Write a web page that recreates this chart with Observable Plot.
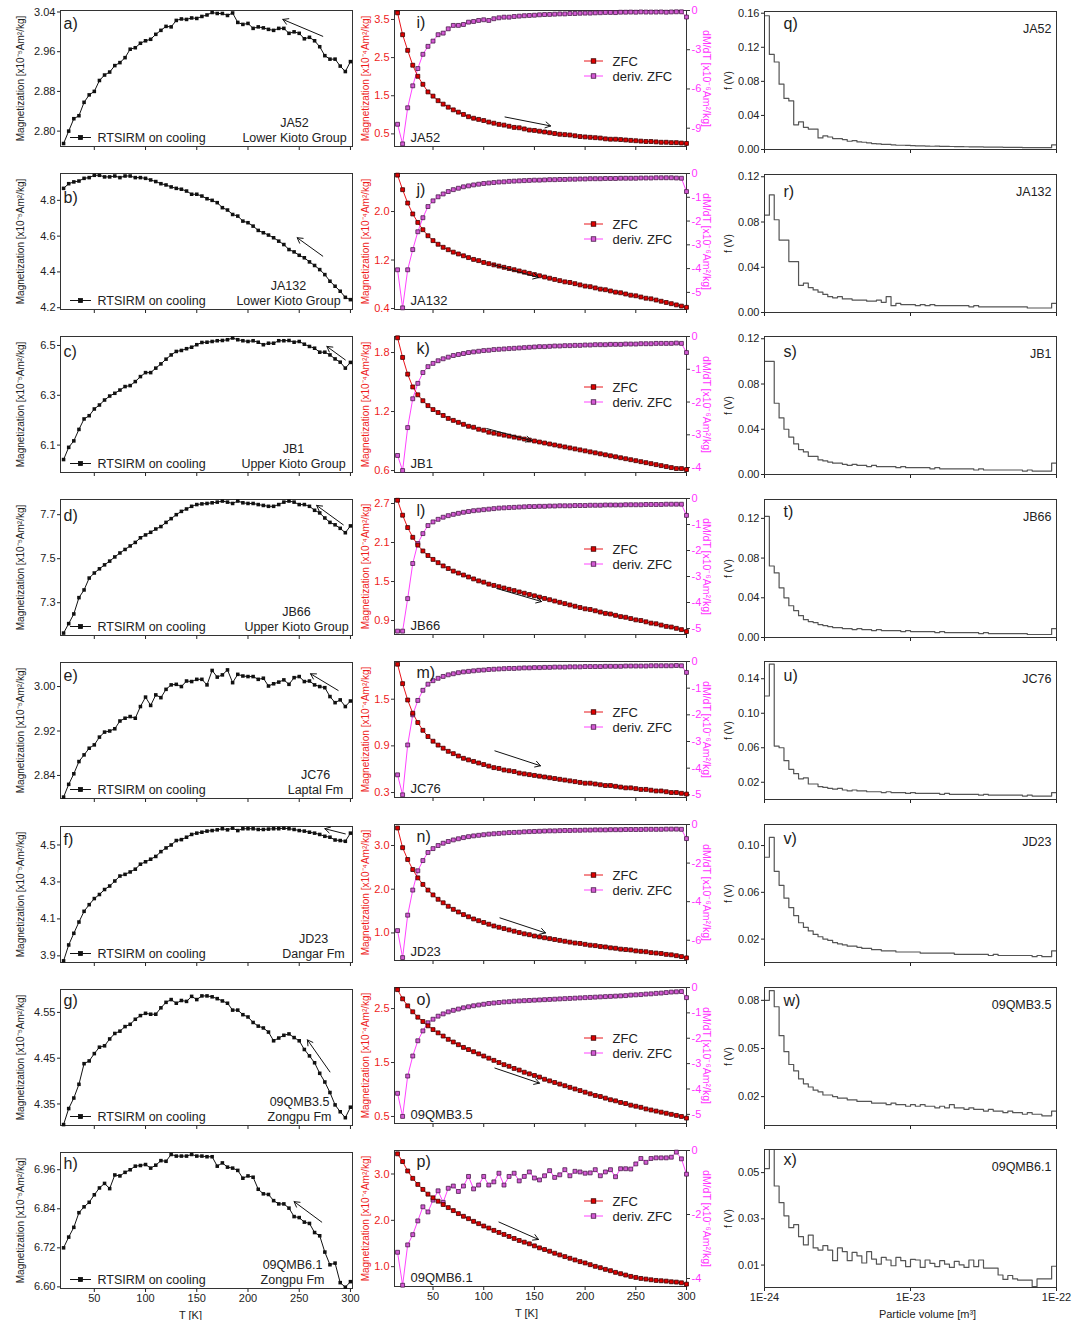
<!DOCTYPE html>
<html><head><meta charset="utf-8">
<script src="https://cdn.jsdelivr.net/npm/d3@7"></script>
<script src="https://cdn.jsdelivr.net/npm/@observablehq/plot@0.6"></script>
<style>
body{margin:0;background:#fff;}
#root{position:relative;width:1084px;height:1320px;overflow:hidden;background:#fff;}
</style></head><body><div id="root"></div>
<script>
// ---------------- DATA ----------------
const samples = ["JA52","JA132","JB1","JB66","JC76","JD23","09QMB3.5","09QMB6.1"];
const formations = ["Lower Kioto Group","Lower Kioto Group","Upper Kioto Group","Upper Kioto Group","Laptal Fm","Dangar Fm","Zongpu Fm","Zongpu Fm"];
const lettersRT = ["a)","b)","c)","d)","e)","f)","g)","h)"];
const lettersZFC = ["i)","j)","k)","l)","m)","n)","o)","p)"];
const lettersHist = ["q)","r)","s)","t)","u)","v)","w)","x)"];

const tempsRT = d3.range(20, 301, 5);   // RTSIRM temperature grid (K)
const tempsZFC = d3.range(15, 301, 5);  // ZFC temperature grid (K)
const tTicks = [50,100,150,200,250,300];

// RTSIRM on cooling (x10^-5 Am2/kg)
const rtA = [2.775,2.80,2.825,2.831,2.858,2.873,2.88,2.902,2.913,2.919,2.932,2.938,2.948,2.965,2.968,2.977,2.982,2.985,2.995,3.003,3.011,3.01,3.023,3.026,3.025,3.028,3.027,3.031,3.034,3.039,3.037,3.037,3.033,3.038,3.019,3.015,3.017,3.007,3.01,3.008,3.005,3.003,3.007,3.007,2.997,3.0,2.997,2.986,2.989,2.982,2.97,2.952,2.945,2.945,2.931,2.92,2.94];
const rtB = [4.867,4.893,4.903,4.908,4.923,4.927,4.94,4.94,4.931,4.931,4.936,4.927,4.936,4.936,4.927,4.927,4.923,4.914,4.905,4.893,4.886,4.875,4.867,4.862,4.852,4.834,4.834,4.824,4.809,4.80,4.787,4.759,4.746,4.721,4.712,4.684,4.675,4.656,4.632,4.619,4.606,4.591,4.572,4.553,4.525,4.512,4.493,4.479,4.456,4.436,4.413,4.385,4.348,4.32,4.292,4.258,4.245];
const rtC = [6.042,6.091,6.117,6.163,6.205,6.218,6.245,6.261,6.281,6.297,6.308,6.321,6.335,6.339,6.355,6.375,6.391,6.391,6.409,6.426,6.445,6.462,6.476,6.48,6.487,6.493,6.503,6.512,6.513,6.516,6.519,6.52,6.523,6.53,6.523,6.519,6.516,6.519,6.513,6.503,6.509,6.509,6.519,6.519,6.52,6.513,6.516,6.505,6.496,6.489,6.473,6.473,6.462,6.446,6.433,6.409,6.432];
const rtD = [7.162,7.205,7.249,7.323,7.358,7.412,7.435,7.454,7.472,7.489,7.508,7.526,7.542,7.558,7.574,7.595,7.608,7.62,7.635,7.646,7.665,7.682,7.70,7.715,7.726,7.738,7.746,7.749,7.751,7.754,7.757,7.762,7.757,7.751,7.762,7.754,7.751,7.751,7.746,7.742,7.738,7.738,7.746,7.757,7.762,7.757,7.746,7.746,7.738,7.72,7.708,7.685,7.665,7.654,7.638,7.618,7.649];
const rtE = [2.801,2.824,2.843,2.865,2.877,2.889,2.895,2.909,2.918,2.92,2.924,2.938,2.943,2.946,2.943,2.964,2.981,2.966,2.985,2.98,2.995,3.003,3.004,3.0,3.01,3.009,3.013,3.013,3.003,3.029,3.017,3.021,3.03,3.007,3.022,3.019,3.018,3.018,3.013,3.015,3.001,3.005,3.008,3.012,3.004,3.016,3.018,3.009,3.01,3.003,3.0,2.998,2.982,2.971,2.976,2.964,2.974];
const rtF = [3.873,3.959,4.022,4.083,4.141,4.177,4.21,4.232,4.259,4.278,4.305,4.332,4.341,4.354,4.369,4.396,4.409,4.423,4.438,4.464,4.484,4.50,4.524,4.529,4.542,4.557,4.564,4.569,4.575,4.578,4.582,4.588,4.582,4.591,4.578,4.588,4.588,4.588,4.584,4.584,4.586,4.588,4.588,4.591,4.588,4.584,4.578,4.575,4.569,4.564,4.557,4.547,4.542,4.527,4.524,4.52,4.564];
const rtG = [4.305,4.34,4.363,4.393,4.438,4.444,4.46,4.474,4.477,4.492,4.504,4.509,4.519,4.524,4.535,4.543,4.548,4.546,4.546,4.56,4.572,4.578,4.57,4.576,4.574,4.585,4.578,4.586,4.586,4.584,4.58,4.575,4.57,4.555,4.555,4.545,4.54,4.528,4.52,4.516,4.507,4.488,4.494,4.5,4.503,4.495,4.488,4.469,4.455,4.44,4.417,4.398,4.375,4.348,4.333,4.32,4.343];
const rtH = [6.72,6.753,6.783,6.828,6.846,6.86,6.883,6.904,6.918,6.902,6.944,6.941,6.952,6.96,6.971,6.973,6.976,6.965,6.974,6.988,6.986,7.007,7.002,7.002,7.002,7.007,7.002,7.002,7.0,7.0,6.971,6.981,6.968,6.965,6.958,6.934,6.941,6.937,6.9,6.886,6.884,6.865,6.855,6.855,6.842,6.816,6.813,6.799,6.795,6.767,6.757,6.707,6.668,6.673,6.613,6.599,6.616];
const rtsirm = [rtA, rtB, rtC, rtD, rtE, rtF, rtG, rtH];
const rtTicks = [[2.80,2.88,2.96,3.04],[4.2,4.4,4.6,4.8],[6.1,6.3,6.5],[7.3,7.5,7.7],[2.84,2.92,3.00],[3.9,4.1,4.3,4.5],[4.35,4.45,4.55],[6.60,6.72,6.84,6.96]];
const rtDecimals = [2,1,1,1,2,1,2,2];
const rtDomains = [[2.769,3.043],[4.19,4.95],[5.99,6.536],[7.151,7.769],[2.7985,3.0433],[3.864,4.60],[4.303,4.60],[6.595,7.013]];
// arrows [T1, M1, T2, M2]
const rtArrows = [[273,2.991,234,3.025],[273,4.488,248,4.591],[295,6.442,277,6.496],[293,7.654,267,7.742],[288,2.993,261,3.023],[295,4.56,275,4.588],[280,4.42,258,4.49],[272,6.799,245,6.862]];

// ZFC magnetization (x10^-4 Am2/kg)
const zfcI = [3.674,3.10,2.69,2.30,2.01,1.80,1.60,1.49,1.37,1.28,1.20,1.13,1.07,1.01,0.95,0.91,0.88,0.85,0.81,0.78,0.75,0.73,0.70,0.67,0.66,0.63,0.60,0.59,0.57,0.55,0.53,0.51,0.49,0.48,0.47,0.45,0.43,0.42,0.41,0.40,0.39,0.37,0.36,0.36,0.35,0.34,0.33,0.32,0.31,0.30,0.30,0.29,0.28,0.28,0.27,0.27,0.26,0.25];
const zfcJ = [2.60,2.36,2.14,1.96,1.82,1.70,1.60,1.52,1.46,1.41,1.37,1.33,1.30,1.27,1.24,1.21,1.19,1.16,1.14,1.12,1.10,1.08,1.06,1.04,1.02,1.00,0.98,0.96,0.94,0.92,0.90,0.88,0.86,0.84,0.83,0.81,0.79,0.77,0.76,0.74,0.72,0.71,0.69,0.67,0.66,0.64,0.62,0.61,0.59,0.57,0.56,0.54,0.52,0.50,0.48,0.46,0.44,0.42];
const zfcK = [1.95,1.75,1.58,1.45,1.37,1.31,1.26,1.22,1.19,1.16,1.13,1.11,1.09,1.07,1.05,1.04,1.02,1.01,0.99,0.98,0.97,0.96,0.95,0.94,0.93,0.92,0.91,0.90,0.89,0.88,0.87,0.86,0.85,0.84,0.83,0.82,0.81,0.80,0.79,0.78,0.77,0.76,0.75,0.74,0.73,0.72,0.71,0.70,0.69,0.68,0.67,0.66,0.65,0.64,0.63,0.62,0.62,0.61];
const zfcL = [2.75,2.52,2.33,2.18,2.06,1.97,1.90,1.84,1.79,1.74,1.70,1.66,1.63,1.60,1.57,1.54,1.51,1.49,1.46,1.44,1.42,1.40,1.38,1.36,1.34,1.32,1.30,1.28,1.26,1.24,1.22,1.20,1.18,1.16,1.14,1.12,1.10,1.08,1.07,1.05,1.03,1.01,1.00,0.98,0.96,0.95,0.93,0.91,0.90,0.88,0.86,0.85,0.83,0.81,0.80,0.78,0.76,0.73];
const zfcM = [1.95,1.70,1.49,1.32,1.20,1.10,1.02,0.96,0.91,0.87,0.83,0.80,0.77,0.74,0.72,0.70,0.68,0.66,0.64,0.62,0.61,0.59,0.58,0.57,0.55,0.54,0.53,0.52,0.51,0.50,0.49,0.48,0.47,0.46,0.45,0.44,0.43,0.42,0.42,0.41,0.40,0.39,0.39,0.38,0.37,0.36,0.36,0.35,0.34,0.34,0.33,0.32,0.32,0.31,0.30,0.30,0.29,0.28];
const zfcN = [3.40,2.95,2.68,2.45,2.26,2.11,1.98,1.87,1.77,1.69,1.61,1.54,1.48,1.42,1.37,1.32,1.28,1.24,1.20,1.16,1.13,1.10,1.07,1.04,1.01,0.98,0.96,0.93,0.91,0.89,0.87,0.85,0.83,0.81,0.79,0.77,0.76,0.74,0.72,0.71,0.69,0.68,0.66,0.65,0.63,0.62,0.61,0.59,0.58,0.57,0.55,0.54,0.53,0.51,0.50,0.48,0.46,0.43];
const zfcO = [2.85,2.68,2.55,2.44,2.34,2.26,2.18,2.11,2.05,1.99,1.93,1.88,1.83,1.78,1.74,1.70,1.66,1.62,1.58,1.54,1.50,1.46,1.43,1.39,1.36,1.32,1.29,1.26,1.23,1.19,1.16,1.13,1.10,1.07,1.04,1.01,0.98,0.95,0.92,0.89,0.87,0.84,0.81,0.79,0.76,0.74,0.71,0.69,0.67,0.64,0.62,0.60,0.58,0.56,0.54,0.52,0.50,0.47];
const zfcP = [3.435,3.268,3.065,2.906,2.775,2.667,2.565,2.486,2.413,2.341,2.275,2.21,2.145,2.087,2.036,1.978,1.928,1.877,1.833,1.783,1.739,1.696,1.652,1.609,1.565,1.529,1.493,1.449,1.406,1.37,1.333,1.29,1.254,1.217,1.181,1.145,1.109,1.08,1.043,1.007,0.978,0.942,0.913,0.877,0.848,0.819,0.79,0.768,0.746,0.732,0.717,0.703,0.696,0.688,0.674,0.667,0.652,0.623];
const zfc = [zfcI, zfcJ, zfcK, zfcL, zfcM, zfcN, zfcO, zfcP];

// dM/dT of ZFC (x10^-6 Am2/kg)
const derI = [-8.7,-10.2,-7.44,-5.76,-4.44,-3.35,-2.74,-2.34,-1.85,-1.73,-1.40,-1.14,-1.14,-1.07,-0.89,-0.84,-0.76,-0.71,-0.76,-0.63,-0.56,-0.51,-0.51,-0.46,-0.43,-0.40,-0.38,-0.36,-0.33,-0.31,-0.30,-0.28,-0.26,-0.26,-0.23,-0.23,-0.21,-0.20,-0.20,-0.18,-0.17,-0.15,-0.15,-0.16,-0.13,-0.13,-0.12,-0.13,-0.11,-0.12,-0.12,-0.12,-0.11,-0.13,-0.11,-0.10,-0.10,-0.5];
const derJ = [-4.05,-5.65,-4.05,-3.2,-2.45,-1.86,-1.39,-1.15,-0.98,-0.86,-0.76,-0.68,-0.62,-0.56,-0.52,-0.48,-0.45,-0.42,-0.40,-0.38,-0.36,-0.35,-0.33,-0.32,-0.31,-0.30,-0.29,-0.28,-0.28,-0.27,-0.26,-0.26,-0.25,-0.25,-0.24,-0.24,-0.23,-0.23,-0.22,-0.22,-0.22,-0.21,-0.21,-0.21,-0.20,-0.20,-0.20,-0.20,-0.19,-0.19,-0.19,-0.18,-0.18,-0.18,-0.18,-0.19,-0.20,-0.76];
const derK = [-3.63,-4.09,-2.78,-1.9,-1.43,-1.1,-0.92,-0.82,-0.74,-0.68,-0.63,-0.58,-0.55,-0.52,-0.49,-0.47,-0.45,-0.43,-0.42,-0.40,-0.39,-0.38,-0.37,-0.36,-0.35,-0.34,-0.33,-0.32,-0.31,-0.31,-0.30,-0.29,-0.29,-0.28,-0.28,-0.27,-0.27,-0.26,-0.26,-0.25,-0.25,-0.25,-0.24,-0.24,-0.24,-0.23,-0.23,-0.23,-0.22,-0.22,-0.22,-0.21,-0.21,-0.21,-0.21,-0.20,-0.21,-0.49];
const derL = [-5.1,-5.1,-3.85,-2.5,-1.73,-1.35,-1.04,-0.90,-0.80,-0.72,-0.66,-0.61,-0.57,-0.53,-0.50,-0.47,-0.45,-0.43,-0.41,-0.39,-0.37,-0.36,-0.35,-0.34,-0.33,-0.32,-0.31,-0.31,-0.30,-0.30,-0.29,-0.29,-0.28,-0.28,-0.28,-0.27,-0.27,-0.27,-0.26,-0.26,-0.26,-0.25,-0.25,-0.25,-0.25,-0.24,-0.24,-0.24,-0.24,-0.23,-0.23,-0.23,-0.23,-0.22,-0.22,-0.22,-0.22,-0.65];
const derM = [-4.25,-5.0,-3.13,-2.0,-1.46,-1.08,-0.85,-0.72,-0.63,-0.56,-0.50,-0.46,-0.42,-0.39,-0.37,-0.35,-0.33,-0.32,-0.30,-0.29,-0.28,-0.27,-0.26,-0.26,-0.25,-0.24,-0.24,-0.23,-0.23,-0.22,-0.22,-0.21,-0.21,-0.21,-0.20,-0.20,-0.20,-0.19,-0.19,-0.19,-0.19,-0.18,-0.18,-0.18,-0.18,-0.17,-0.17,-0.17,-0.17,-0.17,-0.16,-0.16,-0.16,-0.16,-0.16,-0.15,-0.16,-0.41];
const derN = [-5.5,-6.9,-4.7,-3.4,-2.4,-1.87,-1.45,-1.25,-1.09,-0.97,-0.88,-0.80,-0.74,-0.68,-0.63,-0.59,-0.56,-0.53,-0.50,-0.48,-0.46,-0.44,-0.42,-0.41,-0.40,-0.38,-0.37,-0.36,-0.35,-0.34,-0.33,-0.33,-0.32,-0.31,-0.31,-0.30,-0.30,-0.29,-0.29,-0.28,-0.28,-0.28,-0.27,-0.27,-0.27,-0.26,-0.26,-0.26,-0.26,-0.25,-0.25,-0.25,-0.25,-0.24,-0.24,-0.24,-0.25,-0.73];
const derO = [-4.17,-5.08,-3.49,-2.7,-2.1,-1.71,-1.39,-1.25,-1.13,-1.04,-0.96,-0.90,-0.85,-0.80,-0.76,-0.72,-0.69,-0.66,-0.63,-0.61,-0.59,-0.57,-0.56,-0.54,-0.53,-0.52,-0.51,-0.50,-0.49,-0.48,-0.47,-0.46,-0.45,-0.44,-0.43,-0.42,-0.41,-0.40,-0.39,-0.38,-0.37,-0.36,-0.35,-0.34,-0.33,-0.32,-0.30,-0.29,-0.28,-0.26,-0.25,-0.23,-0.22,-0.20,-0.18,-0.17,-0.16,-0.40];
const derP = [-3.18,-4.21,-2.95,-2.63,-2.2,-1.76,-1.92,-1.55,-1.26,-1.62,-1.18,-1.11,-1.28,-1.11,-0.81,-1.2,-1.08,-0.81,-1.08,-0.98,-0.71,-1.08,-0.81,-0.71,-0.95,-0.81,-0.67,-0.86,-0.92,-0.79,-0.63,-0.84,-0.76,-0.6,-0.79,-0.65,-0.67,-0.71,-0.70,-0.6,-0.79,-0.67,-0.6,-0.82,-0.57,-0.57,-0.58,-0.42,-0.25,-0.37,-0.25,-0.23,-0.23,-0.23,-0.21,-0.05,-0.26,-0.74];
const deriv = [derI, derJ, derK, derL, derM, derN, derO, derP];

const zfcTicks = [[0.5,1.5,2.5,3.5],[0.4,1.2,2.0],[0.6,1.2,1.8],[0.9,1.5,2.1,2.7],[0.3,0.9,1.5],[1.0,2.0,3.0],[0.5,1.5,2.5],[1.0,2.0,3.0]];
const zfcDomains = [[0.169,3.735],[0.384,2.627],[0.58,1.963],[0.685,2.777],[0.236,1.985],[0.37,3.48],[0.37,2.89],[0.572,3.507]];
const derTicks = [[0,-3,-6,-9],[0,-1,-2,-3,-4,-5],[0,-1,-2,-3,-4],[0,-1,-2,-3,-4,-5],[0,-1,-2,-3,-4,-5],[0,-2,-4,-6],[0,-1,-2,-3,-4,-5],[0,-2,-4]];
const derDomains = [[-10.4,0],[-5.72,0],[-4.15,0],[-5.23,0],[-5.1,0],[-7.05,0],[-5.36,0],[-4.25,0]];
const zfcArrows = [[121,0.943,166,0.708],[109,1.125,154,0.911],[103,1.027,147,0.905],[113,1.392,157,1.192],[111,0.836,156,0.644],[116,1.345,161,1.0],[111,1.397,155,1.117],[115,1.963,154,1.587]];

// Particle volume distributions f(V), 60 log bins between 1E-24 and 1E-22 m3
const binEdges = d3.range(61).map(k => 1e-24 * Math.pow(10, k / 30));
const hQ = [0.157,0.1116,0.1027,0.0767,0.060,0.057,0.029,0.0325,0.026,0.024,0.024,0.0136,0.0159,0.0147,0.0128,0.0128,0.0116,0.0097,0.0105,0.0089,0.0085,0.0077,0.007,0.0065,0.006,0.006,0.0055,0.005,0.005,0.0048,0.0045,0.0042,0.0042,0.004,0.0038,0.004,0.0036,0.0036,0.0035,0.0034,0.0033,0.0032,0.0031,0.003,0.003,0.0029,0.0028,0.0028,0.0027,0.0026,0.0025,0.0025,0.0024,0.0022,0.0022,0.0022,0.0021,0.0021,0.0021,0.0055];
const hR = [0.086,0.104,0.082,0.064,0.064,0.045,0.045,0.024,0.026,0.022,0.02,0.018,0.016,0.014,0.013,0.014,0.012,0.012,0.011,0.011,0.011,0.010,0.010,0.011,0.009,0.014,0.006,0.008,0.007,0.007,0.007,0.006,0.007,0.006,0.007,0.006,0.006,0.006,0.006,0.006,0.006,0.006,0.005,0.006,0.005,0.005,0.005,0.005,0.005,0.005,0.005,0.005,0.005,0.005,0.004,0.004,0.004,0.004,0.004,0.008];
const hS = [0.10,0.10,0.063,0.050,0.040,0.033,0.027,0.022,0.020,0.016,0.016,0.013,0.012,0.011,0.010,0.010,0.009,0.008,0.009,0.008,0.008,0.007,0.008,0.007,0.007,0.007,0.007,0.006,0.007,0.006,0.006,0.006,0.006,0.006,0.005,0.006,0.005,0.005,0.005,0.005,0.005,0.005,0.005,0.004,0.005,0.004,0.004,0.004,0.004,0.004,0.004,0.004,0.004,0.003,0.004,0.003,0.003,0.003,0.003,0.010];
const hT = [0.122,0.072,0.065,0.050,0.040,0.032,0.027,0.022,0.018,0.016,0.015,0.013,0.012,0.011,0.010,0.010,0.009,0.009,0.008,0.009,0.008,0.008,0.007,0.008,0.007,0.007,0.007,0.007,0.006,0.007,0.006,0.006,0.006,0.006,0.006,0.005,0.006,0.005,0.005,0.005,0.005,0.005,0.005,0.005,0.004,0.005,0.004,0.004,0.004,0.004,0.004,0.004,0.004,0.004,0.003,0.003,0.003,0.003,0.003,0.009];
const hU = [0.12,0.157,0.062,0.060,0.045,0.035,0.030,0.024,0.025,0.018,0.018,0.015,0.014,0.013,0.012,0.013,0.011,0.010,0.011,0.010,0.010,0.009,0.009,0.009,0.008,0.009,0.008,0.008,0.008,0.007,0.008,0.007,0.007,0.007,0.007,0.007,0.006,0.007,0.006,0.006,0.006,0.006,0.006,0.006,0.005,0.006,0.005,0.005,0.005,0.005,0.005,0.005,0.005,0.004,0.005,0.004,0.004,0.004,0.004,0.008];
const hV = [0.090,0.107,0.078,0.066,0.055,0.047,0.040,0.034,0.030,0.027,0.024,0.022,0.020,0.019,0.017,0.016,0.015,0.014,0.014,0.013,0.012,0.012,0.011,0.011,0.010,0.010,0.010,0.009,0.009,0.009,0.009,0.009,0.008,0.008,0.008,0.008,0.008,0.008,0.008,0.007,0.007,0.007,0.007,0.007,0.007,0.007,0.006,0.007,0.006,0.006,0.006,0.006,0.006,0.006,0.006,0.005,0.006,0.005,0.005,0.010];
const hW = [0.080,0.086,0.076,0.058,0.048,0.040,0.036,0.031,0.028,0.026,0.024,0.023,0.021,0.021,0.020,0.019,0.019,0.018,0.018,0.017,0.017,0.017,0.016,0.016,0.016,0.015,0.016,0.015,0.015,0.014,0.015,0.014,0.015,0.014,0.014,0.013,0.014,0.013,0.015,0.013,0.013,0.012,0.013,0.012,0.012,0.011,0.012,0.011,0.011,0.010,0.011,0.010,0.010,0.009,0.010,0.009,0.009,0.008,0.008,0.011];
const hX = [0.0517,0.075,0.0442,0.037,0.0313,0.0262,0.0275,0.0223,0.0187,0.023,0.0174,0.0165,0.0184,0.0165,0.0119,0.0174,0.0158,0.0119,0.0155,0.014,0.0109,0.0158,0.0126,0.0104,0.0133,0.0122,0.0097,0.0133,0.0119,0.0093,0.0125,0.0122,0.009,0.0122,0.0107,0.0093,0.0119,0.0104,0.009,0.0116,0.0101,0.009,0.0122,0.0093,0.0122,0.0087,0.0087,0.0087,0.0057,0.0038,0.0055,0.004,0.0035,0.0035,0.0035,0.0007,0.004,0.004,0.004,0.0095];
const hists = [hQ, hR, hS, hT, hU, hV, hW, hX];
const histTicks = [[0,0.04,0.08,0.12,0.16],[0,0.04,0.08,0.12],[0,0.04,0.08,0.12],[0,0.04,0.08,0.12],[0.02,0.06,0.10,0.14],[0.02,0.06,0.10],[0.02,0.05,0.08],[0.01,0.03,0.05]];
const histDomains = [[0,0.162],[0,0.122],[0,0.122],[0,0.139],[0,0.16],[0,0.118],[0.002,0.088],[0.0003,0.060]];
const volTicks = [1e-24, 1e-23, 1e-22];

// ---------------- LAYOUT / STYLE ----------------
const FONT = '"Liberation Sans", Arial, Helvetica, sans-serif';
const RED = "#ee1c1c", MAG = "#ff33ff", INK = "#222";
const root = document.getElementById("root");
const baseStyle = {fontFamily: FONT, fontSize: "11px", color: INK, background: "transparent", maxWidth: "none", overflow: "visible"};
function place(svg, left, top) {
  svg.style.position = "absolute";
  svg.style.left = left + "px";
  svg.style.top = top + "px";
  root.appendChild(svg);
}
function swatch(svg, x1, x2, y, line, fill, stroke, side) {
  const g = d3.select(svg).append("g");
  g.append("line").attr("x1", x1).attr("x2", x2).attr("y1", y).attr("y2", y).attr("stroke", line).attr("stroke-width", 1);
  g.append("rect").attr("x", (x1 + x2) / 2 - side / 2).attr("y", y - side / 2).attr("width", side).attr("height", side)
    .attr("fill", fill).attr("stroke", stroke).attr("stroke-width", 0.8);
}
// text label helper: anchored to the frame, centred on its line
function lab(str, opts) {
  return Plot.text([str], Object.assign({text: d => d, lineAnchor: "middle", textAnchor: "middle"}, opts));
}
const MT = 12;
const letterDy1 = [13, 24, 15, 16, 13, 13, 11, 11];
const letterDy2 = [12, 16, 12, 12, 11, 12, 12, 11];
const letterDy3 = [12, 17, 15, 12, 14, 14, 13, 10];

// ---- Column 1: RTSIRM ----
const sampleX1 = [294, 288, 293, 296, 315, 313, 299, 292];
rtsirm.forEach((vals, i) => {
  const last = i === 7;
  const H = 136, ML = 60, MR = 8, W = 360, MB = last ? 40 : 14;
  const top = 10 + i * 163.1;
  const data = vals.map((M, k) => ({T: tempsRT[k], M}));
  const fmt = d3.format("." + rtDecimals[i] + "f");
  const svg = Plot.plot({
    width: W, height: MT + H + MB, marginLeft: ML, marginRight: MR, marginTop: MT, marginBottom: MB,
    style: baseStyle,
    x: {domain: [17, 302]},
    y: {domain: rtDomains[i]},
    marks: [
      Plot.axisY({ticks: rtTicks[i], tickFormat: fmt, tickSize: 3, tickPadding: 2, label: null}),
      Plot.axisX({ticks: tTicks, tickFormat: last ? (d => String(d)) : (() => ""), tickSize: 4, tickPadding: 2, label: null}),
      Plot.frame({stroke: "#333"}),
      Plot.line(data, {x: "T", y: "M", stroke: "#111", strokeWidth: 1}),
      Plot.dot(data, {x: "T", y: "M", symbol: "square", r: 2.0, fill: "#111"}),
      Plot.arrow([rtArrows[i]], {x1: d => d[0], y1: d => d[1], x2: d => d[2], y2: d => d[3], stroke: "#111", strokeWidth: 1, headLength: 9}),
      lab(lettersRT[i], {frameAnchor: "top-left", dx: 3, dy: letterDy1[i], textAnchor: "start", fontSize: 16}),
      lab("Magnetization [x10\u207B\u2075Am\u00B2/kg]", {frameAnchor: "left", rotate: -90, dx: -40, fontSize: 10}),
      lab(samples[i], {frameAnchor: "bottom-left", dx: sampleX1[i] - ML, dy: -24, fontSize: 12.5}),
      lab(formations[i], {frameAnchor: "bottom-left", dx: sampleX1[i] - ML, dy: -8.5, fontSize: 12.5}),
      lab("RTSIRM on cooling", {frameAnchor: "bottom-left", dx: 37, dy: -8.5, textAnchor: "start", fontSize: 12.5}),
      last ? lab("T [K]", {frameAnchor: "bottom", dx: -16, dy: 27, fontSize: 11}) : null
    ]
  });
  swatch(svg, 70, 91, MT + H - 8.5, "#111", "#111", "#111", 4);
  place(svg, 0, top - MT);
});

// ---- Column 2: ZFC and derivative ----
zfc.forEach((vals, i) => {
  const last = i === 7;
  const H = 136, ML = 54, MR = 46, W = 392, MB = last ? 40 : 14;
  const top = 10 + i * 162.8;
  const [lo, hi] = zfcDomains[i];
  const [dlo, dhi] = derDomains[i];
  const toL = d => lo + (d - dlo) / (dhi - dlo) * (hi - lo);
  const fromL = y => dlo + (y - lo) / (hi - lo) * (dhi - dlo);
  const zd = vals.map((M, k) => ({T: tempsZFC[k], M}));
  const dd = deriv[i].map((D, k) => ({T: tempsZFC[k], M: toL(D)}));
  const svg = Plot.plot({
    width: W, height: MT + H + MB, marginLeft: ML, marginRight: MR, marginTop: MT, marginBottom: MB,
    style: baseStyle,
    x: {domain: [12, 300]},
    y: {domain: [lo, hi]},
    marks: [
      Plot.axisY({ticks: zfcTicks[i], tickFormat: d3.format(".1f"), tickSize: 3, tickPadding: 2, label: null, fill: RED, stroke: "#333"}),
      Plot.axisY({anchor: "right", ticks: derTicks[i].map(toL), tickFormat: y => String(Math.round(fromL(y)) || 0), tickSize: 3, tickPadding: 2, label: null, fill: MAG, stroke: "#333"}),
      Plot.axisX({ticks: tTicks, tickFormat: last ? (d => String(d)) : (() => ""), tickSize: 4, tickPadding: 2, label: null}),
      Plot.frame({stroke: "#333"}),
      Plot.line(dd, {x: "T", y: "M", stroke: "#ff44ff", strokeWidth: 1}),
      Plot.line(zd, {x: "T", y: "M", stroke: "#e8141b", strokeWidth: 1}),
      Plot.dot(dd, {x: "T", y: "M", symbol: "square", r: 2.2, fill: "#d35ad3", stroke: "#4a1a4a", strokeWidth: 0.8}),
      Plot.dot(zd, {x: "T", y: "M", symbol: "square", r: 2.2, fill: "#e00000", stroke: "#3a0000", strokeWidth: 0.8}),
      Plot.arrow([zfcArrows[i]], {x1: d => d[0], y1: d => d[1], x2: d => d[2], y2: d => d[3], stroke: "#111", strokeWidth: 1, headLength: 9}),
      lab(lettersZFC[i], {frameAnchor: "top-left", dx: 22, dy: letterDy2[i], textAnchor: "start", fontSize: 16}),
      lab("Magnetization [x10\u207B\u2074Am\u00B2/kg]", {frameAnchor: "left", rotate: -90, dx: -29, fontSize: 10, fill: RED}),
      lab("dM/dT [x10\u207B\u2076Am\u00B2/kg]", {frameAnchor: "right", rotate: 90, dx: 20, fontSize: 10.5, fill: MAG}),
      lab(samples[i], {frameAnchor: "bottom-left", dx: 16, dy: -8.5, textAnchor: "start", fontSize: 13}),
      lab("ZFC", {frameAnchor: "top-left", dx: 218, dy: 51, textAnchor: "start", fontSize: 13}),
      lab("deriv. ZFC", {frameAnchor: "top-left", dx: 218, dy: 66, textAnchor: "start", fontSize: 13}),
      last ? lab("T [K]", {frameAnchor: "bottom", dx: -14, dy: 27, fontSize: 11}) : null
    ]
  });
  swatch(svg, 244, 263, MT + 51, "#e8141b", "#e00000", "#3a0000", 4.5);
  swatch(svg, 244, 263, MT + 66, "#ff44ff", "#d35ad3", "#4a1a4a", 4.5);
  place(svg, 340, top - MT);
});

// ---- Column 3: f(V) histograms ----
hists.forEach((vals, i) => {
  const last = i === 7;
  const H = 138, ML = 46, MR = 28, W = 366, MB = last ? 40 : 14;
  const top = 11 + i * 162.6;
  const data = vals.map((f, k) => ({V: binEdges[k], f}));
  data.push({V: binEdges[binEdges.length - 1], f: vals[vals.length - 1]});
  const svg = Plot.plot({
    width: W, height: MT + H + MB, marginLeft: ML, marginRight: MR, marginTop: MT, marginBottom: MB,
    style: baseStyle,
    x: {type: "log", domain: [1e-24, 1e-22]},
    y: {domain: histDomains[i]},
    marks: [
      Plot.axisY({ticks: histTicks[i], tickFormat: d3.format(".2f"), tickSize: 3, tickPadding: 2, label: null}),
      Plot.axisX({ticks: volTicks, tickFormat: last ? (d => "1E" + Math.round(Math.log10(d))) : (() => ""), tickSize: 4, tickPadding: 2, label: null}),
      Plot.line(data, {x: "V", y: "f", curve: "step-after", stroke: "#555", strokeWidth: 1.2, clip: true}),
      Plot.frame({stroke: "#333"}),
      lab(lettersHist[i], {frameAnchor: "top-left", dx: 19, dy: letterDy3[i], textAnchor: "start", fontSize: 16}),
      lab("f (V)", {frameAnchor: "left", rotate: -90, dx: -36, fontSize: 10}),
      lab(samples[i], {frameAnchor: "top-right", dx: -5, dy: 17, textAnchor: "end", fontSize: 12.5}),
      last ? lab("Particle volume [m\u00B3]", {frameAnchor: "bottom", dx: 17, dy: 27, fontSize: 11}) : null
    ]
  });
  place(svg, 718, top - MT);
});
</script></body></html>
